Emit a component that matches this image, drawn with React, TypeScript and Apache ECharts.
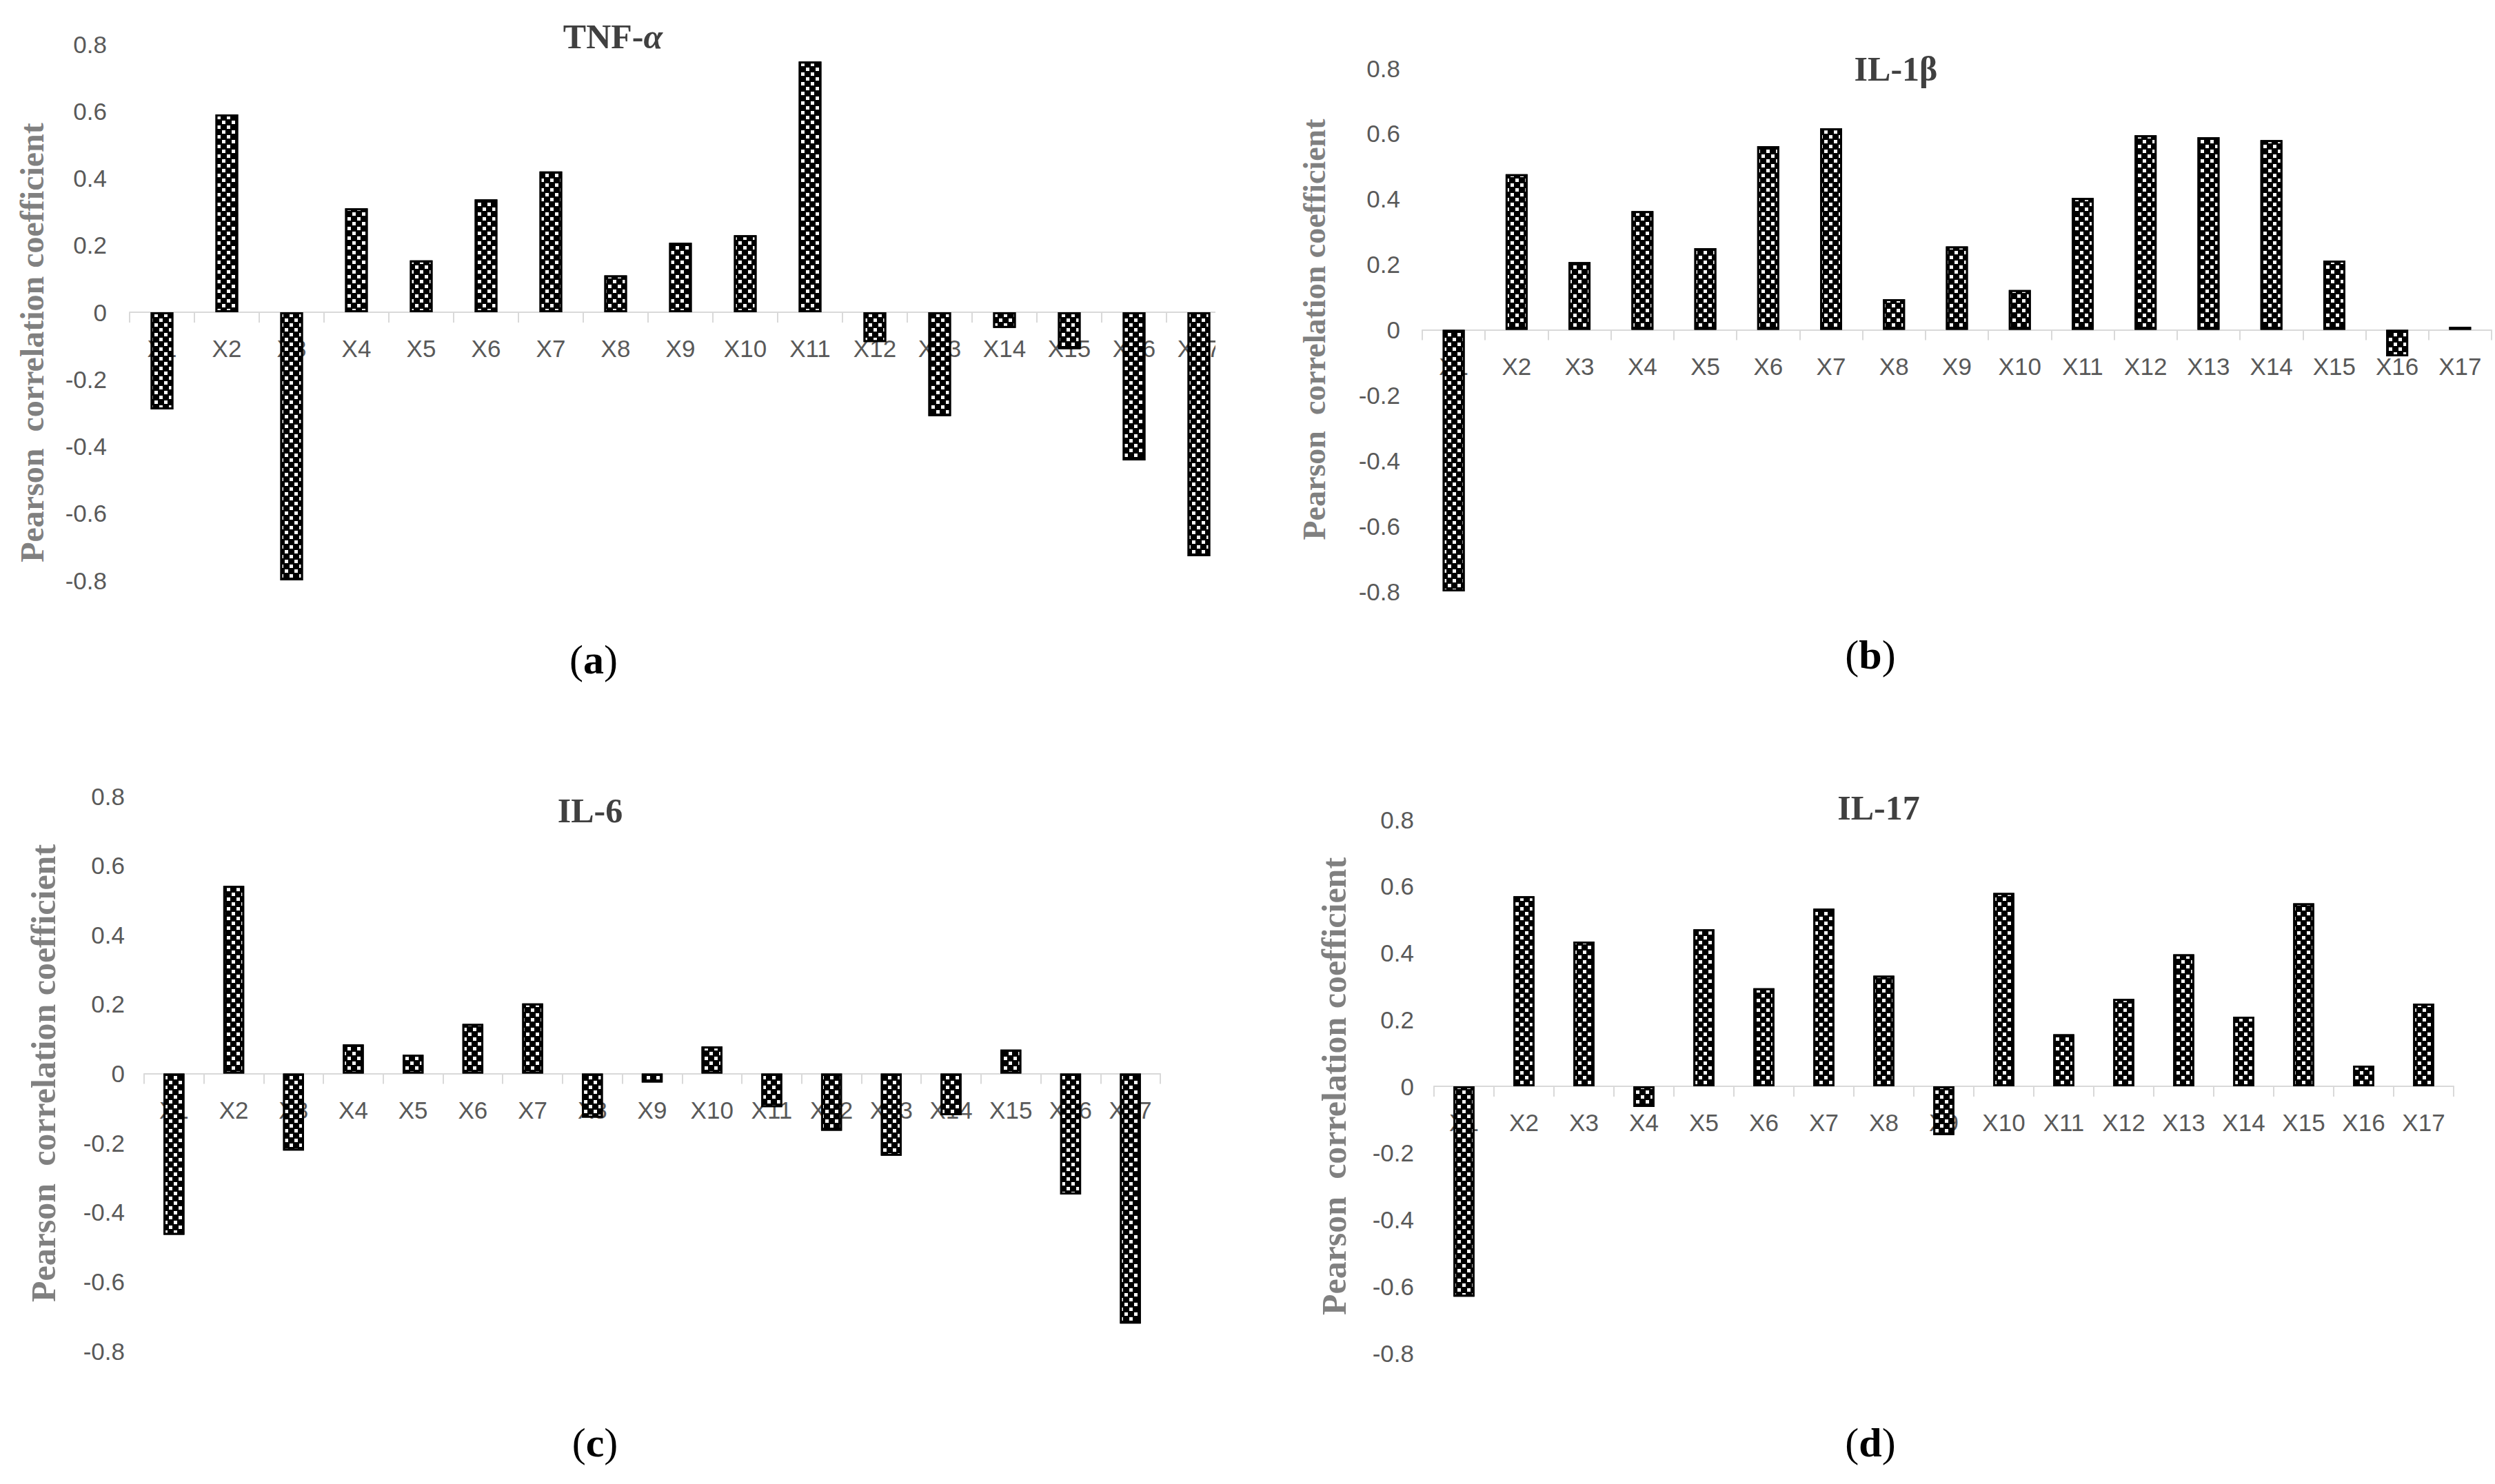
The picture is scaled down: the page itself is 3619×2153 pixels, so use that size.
import React, { useEffect, useRef } from "react";
import * as echarts from "echarts";

const categories = ["X1", "X2", "X3", "X4", "X5", "X6", "X7", "X8", "X9", "X10", "X11", "X12", "X13", "X14", "X15", "X16", "X17"];

const tnfAlpha = [-0.29, 0.59, -0.8, 0.31, 0.155, 0.337, 0.42, 0.11, 0.207, 0.23, 0.748, -0.089, -0.31, -0.047, -0.11, -0.442, -0.728];
const il1beta = [-0.8, 0.476, 0.207, 0.363, 0.25, 0.562, 0.616, 0.094, 0.255, 0.122, 0.403, 0.595, 0.589, 0.58, 0.212, -0.081, 0.009];
const il6 = [-0.465, 0.541, -0.222, 0.084, 0.054, 0.143, 0.202, -0.127, -0.026, 0.078, -0.097, -0.165, -0.237, -0.12, 0.069, -0.349, -0.721];
const il17 = [-0.631, 0.57, 0.434, -0.062, 0.471, 0.294, 0.533, 0.332, -0.146, 0.58, 0.156, 0.262, 0.396, 0.209, 0.549, 0.062, 0.248];

const yMin = -0.8;
const yMax = 0.8;
const yStep = 0.2;

const panelTitles = ["TNF-{i|α}", "IL-1β", "IL-6", "IL-17"];
const panelLetters = ["a", "b", "c", "d"];
const axisName = "Pearson  correlation coefficient";

const W = 3619;
const H = 2153;

// layout of each panel (pixels)
const grids = [
  { left: 188, top: 64, width: 1598, height: 778, labelMargin: 33 },
  { left: 2063, top: 99, width: 1551, height: 759, labelMargin: 32 },
  { left: 209, top: 1155, width: 1474, height: 805, labelMargin: 28 },
  { left: 2080, top: 1189, width: 1479, height: 774, labelMargin: 29 },
];
const titlePos = [
  [889, 53],
  [2750, 100],
  [856, 1176],
  [2725, 1172],
];
const namePos = [
  { x: 46, y: 497, size: 48 },
  { x: 1906, y: 478, size: 46 },
  { x: 63, y: 1557, size: 50 },
  { x: 1935, y: 1576, size: 50 },
];
const captionPos = [
  [861, 957],
  [2713, 950],
  [863, 2093],
  [2713, 2093],
];

const seriesData = [tnfAlpha, il1beta, il6, il17];

const labelColor = "#595959";
const titleColor = "#404040";
const tickFont = "'Liberation Sans', Arial, sans-serif";
const serif = "'Liberation Serif', 'Times New Roman', serif";

export default function App() {
  const ref = useRef<HTMLDivElement>(null);

  useEffect(() => {
    document.body.style.margin = "0";
    const chart = echarts.init(ref.current as HTMLDivElement, null, { renderer: "svg", width: W, height: H });

    // checkered fill: small white squares on black
    const decal = {
      symbol: "rect",
      symbolSize: 1,
      color: "#ffffff",
      dashArrayX: [
        [5, 9],
        [0, 7, 5, 2],
      ],
      dashArrayY: [5, 2],
      rotation: 0,
    };

    const graphic: any[] = [];
    // mask: panel (a) is cut at its right edge
    graphic.push({
      type: "rect",
      z: 100,
      shape: { x: 1763, y: 0, width: 110, height: 1000 },
      style: { fill: "#ffffff" },
    });
    for (let i = 0; i < 4; i++) {
      graphic.push({
        type: "text",
        z: 101,
        x: titlePos[i][0],
        y: titlePos[i][1],
        style: {
          text: panelTitles[i],
          fontSize: 50,
          fontWeight: "bold",
          fontFamily: serif,
          fill: titleColor,
          align: "center",
          verticalAlign: "middle",
          rich: {
            i: { fontSize: 50, fontWeight: "bold", fontStyle: "italic", fontFamily: serif, fill: titleColor },
          },
        },
      });
      graphic.push({
        type: "text",
        z: 101,
        x: namePos[i].x,
        y: namePos[i].y,
        rotation: Math.PI / 2,
        style: {
          text: axisName,
          fontSize: namePos[i].size,
          fontWeight: "bold",
          fontFamily: serif,
          fill: "#808080",
          align: "center",
          verticalAlign: "middle",
        },
      });
      graphic.push({
        type: "text",
        z: 101,
        x: captionPos[i][0],
        y: captionPos[i][1],
        style: {
          text: "({b|" + panelLetters[i] + "})",
          fontSize: 60,
          fontFamily: serif,
          fill: "#000000",
          align: "center",
          verticalAlign: "middle",
          rich: {
            b: { fontSize: 60, fontWeight: "bold", fontFamily: serif, fill: "#000000" },
          },
        },
      });
    }

    const option: any = {
      animation: false,
      backgroundColor: "#ffffff",
      grid: grids.map((g) => ({ left: g.left, top: g.top, width: g.width, height: g.height, containLabel: false })),
      xAxis: grids.map((g, i) => ({
        type: "category",
        gridIndex: i,
        data: categories,
        boundaryGap: true,
        position: "bottom",
        // place the whole axis (line, ticks, labels) at value 0 of the y axis
        offset: -(g.height * (0 - yMin)) / (yMax - yMin),
        axisLine: { onZero: false, lineStyle: { color: "#d9d9d9", width: 2 } },
        axisTick: { show: true, length: 15, lineStyle: { color: "#d9d9d9", width: 2 } },
        axisLabel: { interval: 0, margin: 35, color: labelColor, fontSize: 35, fontFamily: tickFont },
        splitLine: { show: false },
        z: 0,
      })),
      yAxis: grids.map((g, i) => ({
        type: "value",
        gridIndex: i,
        min: yMin,
        max: yMax,
        interval: yStep,
        axisLine: { show: false },
        axisTick: { show: false },
        splitLine: { show: false },
        axisLabel: { margin: g.labelMargin, color: labelColor, fontSize: 35, fontFamily: tickFont },
      })),
      series: seriesData.map((d, i) => ({
        type: "bar",
        xAxisIndex: i,
        yAxisIndex: i,
        data: d,
        barWidth: "35%",
        z: 5,
        itemStyle: { color: "#000000", borderColor: "#000000", borderWidth: 3, decal },
      })),
      graphic,
    };

    chart.setOption(option);
    return () => chart.dispose();
  }, []);

  return <div ref={ref} style={{ position: "absolute", left: 0, top: 0, width: W, height: H, background: "#fff" }} />;
}
